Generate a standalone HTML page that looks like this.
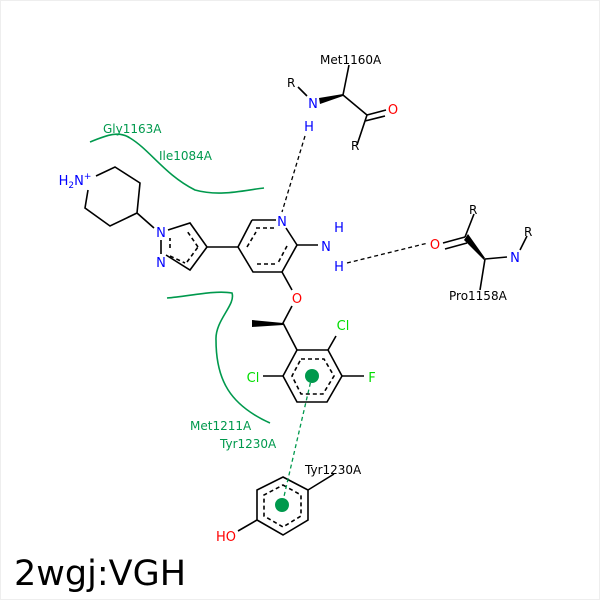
<!DOCTYPE html><html><head><style>body{margin:0;background:#fff}svg{display:block}text{font-family:"DejaVu Sans","Liberation Sans",sans-serif}</style></head><body>
<svg width="600" height="600" viewBox="0 0 600 600">
<rect x="0.5" y="0.5" width="599" height="599" fill="#fff" stroke="#eee"/>
<g fill="none" stroke="#00994d" stroke-width="1.6">
<path d="M90,142 C105,136 118,130 130,138 C150,150 165,175 195,190 C220,197 245,190 264,188"/>
<path d="M167,298 C190,296 215,290 232,293 C236,305 215,320 216,340 C216,380 230,405 270,423"/>
</g>
<g stroke="#000" stroke-width="1.6" fill="none">
<!-- pyridine -->
<path d="M252,220 L276,220 M286,228 L297,245 L282,272 L253,272 L238,247 L252,220"/>
<path d="M256,228 L274,228 M287,246 L278,263 M257,264 L278,264 M247,247 L256,232" stroke-dasharray="4,3"/>
<path d="M297,245 L318,245"/>
<path d="M282,272 L292,290 M292,306 L283,323 L297,350"/>
<!-- pyrazole -->
<path d="M238,247 L207,247 L190,223 L168,230 M166,255 L190,270 L207,247 M161,240 L161,254"/>
<path d="M198,247 L187,231 M187,262 L198,247 M170,248 L170,238 M170,256 L185,263" stroke-dasharray="4,3"/>
<!-- piperidine -->
<path d="M154,228 L137,213 L140,183 L115,167 L96,176 M88,190 L85,208 L110,226 L137,213"/>
<!-- dichlorofluoro ring -->
<path d="M297,350 L328,350 L342,376 L327,402 L297,402 L283,376 Z"/>
<path d="M301,359 L324,359 L334,376 L323,394 L301,394 L292,376 Z" stroke-dasharray="4,3"/>
<path d="M328,350 L336,336 M283,376 L263,376 M342,376 L364,376"/>
<!-- tyr ring -->
<path d="M283,477 L308,490 L308,520 L283,535 L257,520 L257,490 Z"/>
<path d="M283,485 L301,495 L301,516 L283,527 L264,516 L264,495 Z" stroke-dasharray="4,3"/>
<path d="M308,490 L334,474 M257,520 L238,531"/>
<!-- Met1160 -->
<path d="M298,87 L307,96 M343,95 L349,65 M343,95 L367,115 L357,145 M367,115 L386,110 M365,121 L385,116"/>
<!-- Pro1158 -->
<path d="M465,237 L474,214 M465,237 L443,243 M467,243 L445,249 M485,259 L507,257 M520,250 L527,236 M485,259 L480,290"/>
</g>
<polygon points="343,94 343,96 320,104 319,98" fill="#000"/>
<polygon points="485,258 484,260 464,240 468,234" fill="#000"/>
<polygon points="283,323 283,325 252,327 252,320" fill="#000"/>
<g stroke="#000" stroke-width="1.3" stroke-dasharray="4,3" fill="none">
<path d="M305,136 L282,212"/>
<path d="M347,263 L428,243"/>
</g>
<path d="M312,376 L282,505" stroke="#00994d" stroke-width="1.3" stroke-dasharray="4,3"/>
<circle cx="312" cy="376" r="7" fill="#00994d"/>
<circle cx="282" cy="505" r="7" fill="#00994d"/>
<g font-size="13" fill="#0000ff" text-anchor="middle">
<text x="282" y="226">N</text>
<text x="326" y="251">N</text><text x="339" y="232">H</text><text x="339" y="271">H</text>
<text x="161" y="237">N</text><text x="161" y="267">N</text>
<text x="313" y="108">N</text><text x="309" y="131">H</text>
<text x="515" y="262">N</text>
<text x="75" y="185">H<tspan font-size="9" dy="3">2</tspan><tspan dy="-3">N</tspan><tspan font-size="9" dy="-6">+</tspan></text>
</g>
<g font-size="13" fill="#ff0000" text-anchor="middle">
<text x="297" y="303">O</text><text x="393" y="114">O</text><text x="435" y="249">O</text><text x="226" y="541">HO</text>
</g>
<g font-size="13" fill="#00dd00" text-anchor="middle">
<text x="343" y="330">Cl</text><text x="253" y="382">Cl</text><text x="372" y="382">F</text>
</g>
<g font-size="12" fill="#000">
<text x="320" y="64">Met1160A</text>
<text x="287" y="87">R</text><text x="351" y="150">R</text>
<text x="469" y="214">R</text><text x="524" y="236">R</text>
<text x="449" y="300">Pro1158A</text>
<text x="305" y="474">Tyr1230A</text>
</g>
<g font-size="12" fill="#00994d">
<text x="103" y="133">Gly1163A</text>
<text x="159" y="160">Ile1084A</text>
<text x="190" y="430">Met1211A</text>
<text x="220" y="448">Tyr1230A</text>
</g>
<text x="14" y="585" font-size="35" fill="#000">2wgj:VGH</text>
</svg>
</body></html>
